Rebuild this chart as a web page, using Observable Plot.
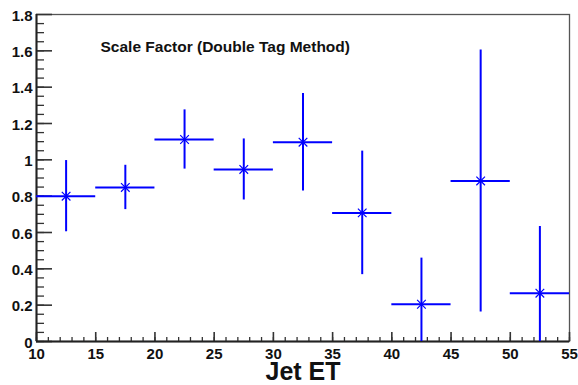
<!DOCTYPE html>
<html>
<head>
<meta charset="utf-8">
<script src="https://cdn.jsdelivr.net/npm/d3@7"></script>
<script src="https://cdn.jsdelivr.net/npm/@observablehq/plot@0.6"></script>
<style>
  html, body { margin: 0; padding: 0; background: #fff; }
  #chart svg { display: block; }
  #chart svg text { font-family: "Liberation Sans", Arial, Helvetica, sans-serif; font-weight: bold; }
</style>
</head>
<body>
<div id="chart"></div>
<script>
// Data
const jetET   = [12.5, 17.5, 22.5, 27.5, 32.5, 37.5, 42.5, 47.5, 52.5];
const binHalf = [2.5, 2.5, 2.5, 2.5, 2.5, 2.5, 2.5, 2.5, 2.5];
const scaleFactor = [0.80, 0.848, 1.112, 0.947, 1.097, 0.708, 0.205, 0.884, 0.266];
const sfError     = [0.196, 0.122, 0.163, 0.168, 0.268, 0.340, 0.254, 0.721, 0.367];

const xMajorTicks = [10, 15, 20, 25, 30, 35, 40, 45, 50, 55];
const xMinorTicks = d3.range(10, 56, 1);
const yMajorTicks = [0, 0.2, 0.4, 0.6, 0.8, 1, 1.2, 1.4, 1.6, 1.8];
const yMinorTicks = d3.range(0, 36).map(i => i * 0.05);

const titleText = "Scale Factor (Double Tag Method)";
const xTitle = "Jet ET";

const points = jetET.map((x, i) => ({
  x, dx: binHalf[i], y: scaleFactor[i], e: sfError[i]
}));

const W = 578, H = 385;
const mL = 36, mR = 9, mT = 14, mB = 44;
const plotW = W - mL - mR, plotH = H - mT - mB;
const blue = "#0000ff";

const chart = Plot.plot({
  width: W, height: H,
  marginLeft: mL, marginRight: mR, marginTop: mT, marginBottom: mB,
  style: {background: "#fff", overflow: "visible"},
  x: {domain: [10, 55]},
  y: {domain: [0, 1.8]},
  marks: [
    Plot.frame({stroke: "#555", strokeWidth: 1.3}),
    // inward ticks
    Plot.tickY(yMinorTicks, {y: d => d, insetRight: plotW - 8, stroke: "#333", strokeWidth: 1.3}),
    Plot.tickY(yMajorTicks, {y: d => d, insetRight: plotW - 16, stroke: "#333", strokeWidth: 1.6}),
    Plot.tickX(xMinorTicks, {x: d => d, insetTop: plotH - 4, stroke: "#333", strokeWidth: 1.3}),
    Plot.tickX(xMajorTicks, {x: d => d, insetTop: plotH - 9, stroke: "#333", strokeWidth: 1.6}),
    Plot.ruleX([10], {stroke: "#222", strokeWidth: 2}),
    Plot.ruleY([0], {stroke: "#222", strokeWidth: 2}),
    Plot.axisY({ticks: yMajorTicks, tickSize: 0, tickPadding: 4, dy: 1.5, fontSize: 15, tickFormat: d => String(d), label: null, fill: "#111"}),
    Plot.axisX({ticks: xMajorTicks, tickSize: 0, tickPadding: 7, fontSize: 15, tickFormat: d => String(d), label: null, fill: "#111"}),
    // error bars
    Plot.ruleY(points, {y: "y", x1: d => d.x - d.dx, x2: d => d.x + d.dx, stroke: blue, strokeWidth: 2, clip: true}),
    Plot.ruleX(points, {x: "x", y1: d => d.y - d.e, y2: d => d.y + d.e, stroke: blue, strokeWidth: 2, clip: true}),
    Plot.dot(points, {x: "x", y: "y", symbol: "times", r: 4, stroke: blue, strokeWidth: 1.2, fill: "white"}),
    // title
    Plot.text([titleText], {frameAnchor: "top-left", dx: 64, dy: 26, textAnchor: "start", lineAnchor: "top", fontSize: 15.5, fill: "#111"}),
    Plot.text([xTitle], {frameAnchor: "bottom", dy: 20.5, lineAnchor: "top", fontSize: 25, fill: "#111"})
  ]
});
document.getElementById("chart").appendChild(chart);
</script>
</body>
</html>
